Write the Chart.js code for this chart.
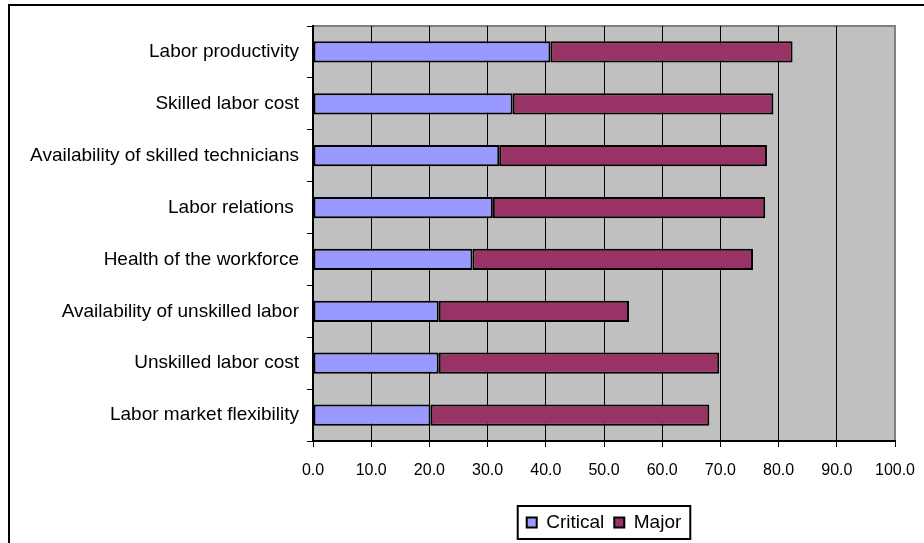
<!DOCTYPE html>
<html>
<head>
<meta charset="utf-8">
<script src="https://cdn.jsdelivr.net/npm/chart.js@4.4.1/dist/chart.umd.min.js"></script>
<style>
  html, body { margin: 0; padding: 0; background: #fff; }
  #wrap { width: 924px; height: 543px; }
</style>
</head>
<body>
<div id="wrap"><canvas id="grafico" width="924" height="543"></canvas></div>
<script>
const categorias = [
  'Labor productivity',
  'Skilled labor cost',
  'Availability of skilled technicians',
  'Labor relations ',
  'Health of the workforce',
  'Availability of unskilled labor',
  'Unskilled labor cost',
  'Labor market flexibility'
];
const critical = [40.8, 34.3, 32.0, 30.9, 27.4, 21.6, 21.6, 20.2];
const major = [41.6, 44.8, 46.0, 46.8, 48.2, 32.7, 48.2, 47.9];
const ticksX = [0, 10, 20, 30, 40, 50, 60, 70, 80, 90, 100];

const fonte = "'Liberation Sans', Arial, sans-serif";

// fundo cinza da area de plotagem, moldura externa e caixa da legenda
const moldura = {
  id: 'moldura',
  beforeDraw(chart) {
    const { ctx, chartArea: a } = chart;
    ctx.save();
    ctx.fillStyle = '#C0C0C0';
    ctx.fillRect(a.left, a.top, a.right - a.left, a.bottom - a.top);
    ctx.strokeStyle = '#808080';
    ctx.lineWidth = 2;
    ctx.beginPath();
    ctx.moveTo(a.left, a.top);
    ctx.lineTo(a.right, a.top);
    ctx.lineTo(a.right, a.bottom);
    ctx.stroke();
    ctx.strokeStyle = '#000';
    ctx.beginPath();
    ctx.moveTo(9, chart.height);
    ctx.lineTo(9, 5);
    ctx.lineTo(chart.width, 5);
    ctx.stroke();
    ctx.restore();
  },
  afterDraw(chart) {
    const hb = chart.legend.legendHitBoxes;
    if (!hb || !hb.length) return;
    const l = Math.min(...hb.map(h => h.left)) - 9;
    const r = Math.max(...hb.map(h => h.left + h.width)) + 9;
    const t = hb[0].top - 7;
    const b = hb[0].top + hb[0].height + 7;
    const ctx = chart.ctx;
    ctx.save();
    ctx.strokeStyle = '#000';
    ctx.lineWidth = 2;
    ctx.strokeRect(l, t, r - l, b - t);
    ctx.restore();
  }
};

new Chart(document.getElementById('grafico').getContext('2d'), {
  type: 'bar',
  data: {
    labels: categorias,
    datasets: [
      {
        label: 'Critical',
        data: critical,
        backgroundColor: '#9999FF',
        borderColor: '#000',
        borderWidth: 2,
        borderSkipped: false
      },
      {
        label: 'Major',
        data: major,
        backgroundColor: '#993366',
        borderColor: '#000',
        borderWidth: 2,
        borderSkipped: false
      }
    ]
  },
  options: {
    indexAxis: 'y',
    responsive: false,
    animation: false,
    datasets: { bar: { barPercentage: 0.41, categoryPercentage: 1 } },
    layout: { padding: { top: 26, right: 29, bottom: 1, left: 0 } },
    plugins: {
      legend: {
        position: 'bottom',
        fullSize: false,
        labels: {
          boxWidth: 10,
          boxHeight: 10,
          padding: 10,
          color: '#000',
          font: { family: fonte, size: 19 }
        }
      },
      tooltip: { enabled: false },
      title: { display: false }
    },
    scales: {
      x: {
        stacked: true,
        min: 0,
        max: 100,
        afterBuildTicks(scale) {
          scale.ticks = ticksX.map(v => ({ value: v }));
        },
        afterFit(scale) {
          scale.height = 62;
          scale.paddingRight = 0;
        },
        grid: {
          color: ctx => (ctx.index === ticksX.length - 1 ? '#808080' : '#000'),
          tickColor: '#000',
          lineWidth: 1,
          tickLength: 6
        },
        border: { color: '#000', width: 2 },
        ticks: {
          color: '#000',
          padding: 14,
          maxRotation: 0,
          font: { family: fonte, size: 16 },
          callback: v => v.toFixed(1)
        }
      },
      y: {
        stacked: true,
        afterFit(scale) { scale.width = 313; },
        grid: {
          drawOnChartArea: false,
          tickColor: '#000',
          tickLength: 6,
          offset: true
        },
        border: { color: '#000', width: 2 },
        ticks: {
          color: '#000',
          padding: 8,
          font: { family: fonte, size: 19 }
        }
      }
    }
  },
  plugins: [moldura]
});
</script>
</body>
</html>
